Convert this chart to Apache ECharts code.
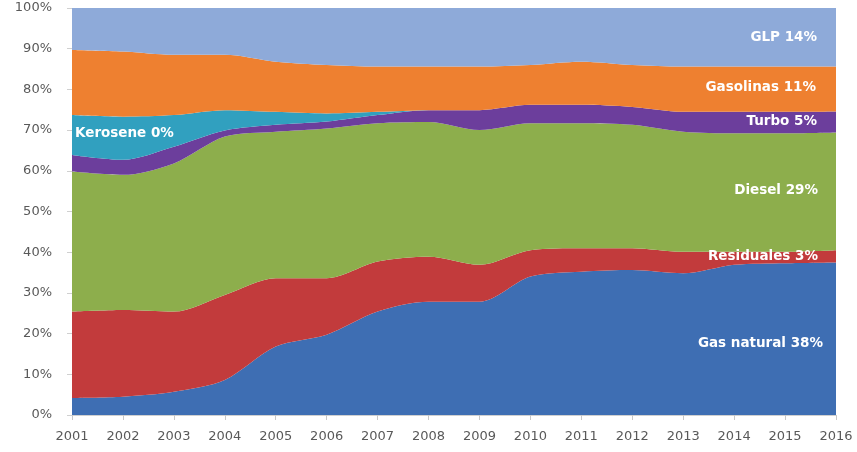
<!DOCTYPE html>
<html>
<head>
<meta charset="utf-8">
<script src="https://cdn.jsdelivr.net/npm/echarts@6/dist/echarts.min.js"></script>
<style>
html,body{margin:0;padding:0;background:#fff;}
#chart{width:857px;height:452px;}
</style>
</head>
<body>
<div id="chart"></div>
<script>
const years = ['2001','2002','2003','2004','2005','2006','2007','2008','2009','2010','2011','2012','2013','2014','2015','2016'];
const gasNatural = [4.2,4.5,5.7,8.6,16.8,19.7,25.4,27.8,27.8,34.0,35.2,35.6,34.8,36.9,37.3,37.5];
const residuales = [21.2,21.3,19.7,20.9,16.8,13.9,12.3,11.1,9.1,6.5,5.8,5.4,5.3,3.2,2.8,3.0];
const diesel     = [34.4,33.2,36.4,38.9,36.0,36.8,34.0,33.1,33.1,31.2,30.7,30.3,29.5,29.1,29.1,28.9];
const turbo      = [4.1,3.7,4.1,1.5,1.7,1.7,2.0,2.9,4.9,4.5,4.5,4.4,4.9,5.3,5.3,5.2];
const kerosene   = [9.8,10.6,7.8,5.0,3.2,2.0,0.8,0,0,0,0,0,0,0,0,0];
const gasolinas  = [16.0,16.0,14.8,13.6,12.3,11.9,11.1,10.7,10.7,9.8,10.6,10.3,11.1,11.1,11.1,11.0];
const glp        = [10.3,10.7,11.5,11.5,13.2,14.0,14.4,14.4,14.4,14.0,13.2,14.0,14.4,14.4,14.4,14.4];

const seriesNames = ['Gas natural','Residuales','Diesel','Turbo','Kerosene','Gasolinas','GLP'];
const seriesLabels = ['Gas natural 38%','Residuales 3%','Diesel 29%','Turbo 5%','Kerosene 0%','Gasolinas 11%','GLP 14%'];
const yTicks = [0,10,20,30,40,50,60,70,80,90,100];

const colors = ['#3e6eb3','#c23b3c','#8dae4c','#6c3e9c','#31a0bf','#ee8030','#8eaad9'];
const values = [gasNatural,residuales,diesel,turbo,kerosene,gasolinas,glp];
// label placement: which point, side, and pixel offset relative to stack top
const labelCfg = [
  {idx:15, pos:'left', off:[-8,81]},
  {idx:15, pos:'left', off:[-13,6]},
  {idx:15, pos:'left', off:[-13,58]},
  {idx:15, pos:'left', off:[-14,10]},
  {idx:0,  pos:'right', off:[-2,18]},
  {idx:15, pos:'left', off:[-15,21]},
  {idx:15, pos:'left', off:[-14,29]}
];

const labelFont = {color:'#ffffff', fontFamily:'DejaVu Sans', fontWeight:'bold', fontSize:13.5};

const series = values.map((arr, s) => ({
  name: seriesNames[s],
  type: 'line',
  stack: 'total',
  smooth: 0.3,
  symbol: 'circle',
  symbolSize: 0,
  showSymbol: true,
  lineStyle: {width: 0},
  itemStyle: {color: colors[s]},
  areaStyle: {color: colors[s], opacity: 1},
  emphasis: {disabled: true},
  z: 2,
  data: arr.map((v, i) => {
    const c = labelCfg[s];
    if (i === c.idx) {
      return {value: v, label: Object.assign({show: true, position: c.pos, distance: 5, offset: c.off, formatter: seriesLabels[s]}, labelFont)};
    }
    return v;
  })
}));

const chart = echarts.init(document.getElementById('chart'), null, {renderer:'canvas'});
chart.setOption({
  animation: false,
  backgroundColor: '#ffffff',
  grid: {left: 72, right: 21, top: 8, bottom: 37},
  xAxis: {
    type: 'category',
    data: years,
    boundaryGap: false,
    axisLine: {show: true, lineStyle: {color: '#d0d0d0'}},
    axisTick: {show: true, alignWithLabel: true, length: 5, lineStyle: {color: '#c8c8c8'}},
    axisLabel: {color: '#595959', fontSize: 13, fontFamily: 'DejaVu Sans', margin: 15}
  },
  yAxis: {
    type: 'value',
    min: 0, max: 100, interval: 10,
    axisLine: {show: false},
    axisTick: {show: true, length: 5, lineStyle: {color: '#d0d0d0'}},
    splitLine: {show: false},
    axisLabel: {color: '#595959', fontSize: 13, fontFamily: 'DejaVu Sans', margin: 20,
      formatter: v => yTicks.indexOf(v) >= 0 ? v + '%' : ''}
  },
  series: series
});
</script>
</body>
</html>
